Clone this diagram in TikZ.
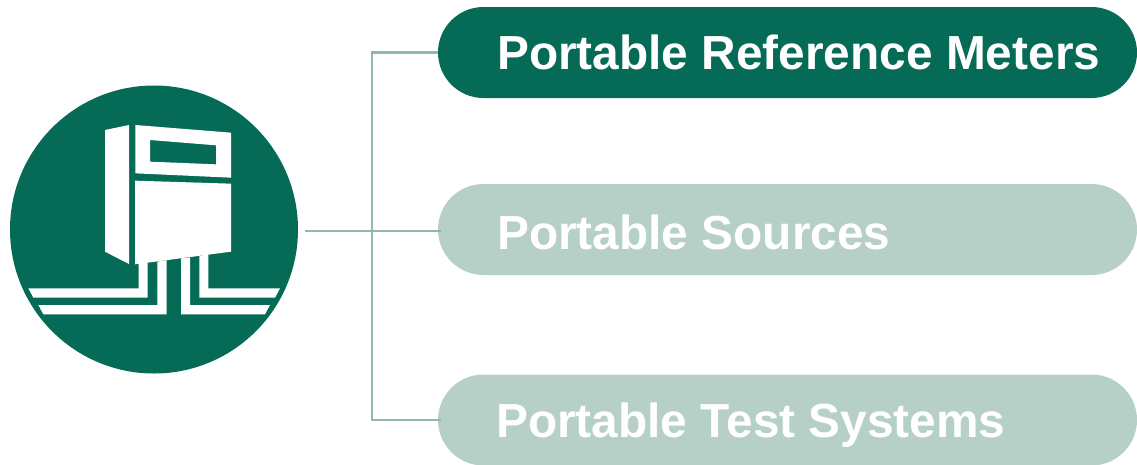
\documentclass[tikz,border=0pt]{standalone}
\usepackage{fontspec}
\setmainfont{Liberation Sans}
\definecolor{dark}{HTML}{056B56}
\definecolor{pale}{HTML}{B6D0C8}
\definecolor{wire}{HTML}{8FB9AC}
\tikzset{
  pill/.style={fill=#1,rounded corners=45.5*0.75pt,minimum width=699*0.75pt,minimum height=91*0.75pt,inner sep=0pt,outer sep=0pt,anchor=west},
  pilltext/.style={anchor=base west,inner sep=0pt,text=#1,font=\bfseries\fontsize{35.85}{36}\selectfont},
  wireline/.style={draw=wire,line width=2pt},
  glyph/.style={fill=white,draw=none}
}
\begin{document}
\begin{tikzpicture}[x=0.75pt,y=-0.75pt]
\useasboundingbox (0,0) rectangle (1137,464);
\node[circle,fill=dark,minimum size=288*0.75pt,inner sep=0pt,outer sep=0pt] (icon) at (154,229.5) {};
\coordinate (stem) at (305,231);
\coordinate (trunk) at (372,231);
\node[pill=dark] (a) at (438,52.5) {};
\node[pill=pale] (b) at (438,229.5) {};
\node[pill=pale] (c) at (438,420) {};
\coordinate (bin) at (441,231);
\coordinate (cin) at (441,420);
\draw[wireline] (stem) -- (bin);
\draw[wireline] (a.west) -| (trunk);
\draw[wireline] (cin) -| (trunk);
\node[pilltext=white] (ta) at (497,69) {Portable Reference Meters};
\node[pilltext=white] (tb) at (497,249.5) {Portable Sources};
\node[pilltext=white] (tc) at (496,437.5) {Portable Test Systems};
\begin{scope}[shift={(0,80)},x=0.25pt,y=-0.25pt]
\fill[glyph] (315,150)--(387,135)--(387,552)--(315,515)--cycle;
\fill[glyph,even odd rule] (406,135)--(693,158)--(693,293)--(406,280)--cycle
  (450,180)--(648,196)--(648,253)--(450,245)--cycle;
\fill[glyph] (405,302)--(693,311)--(693,515)--(405,553)--cycle;
\fill[glyph] (416,550)--(416,625)--(85,625)--(100,653)--(443,653)--(443,548)--cycle;
\fill[glyph] (472,545)--(472,675)--(115,675)--(130,703)--(500,703)--(500,540)--cycle;
\fill[glyph] (543,535)--(543,703)--(795,703)--(810,675)--(570,675)--(570,532)--cycle;
\fill[glyph] (598,529)--(598,653)--(825,653)--(840,625)--(625,625)--(625,520)--cycle;
\end{scope}
\end{tikzpicture}
\end{document}
